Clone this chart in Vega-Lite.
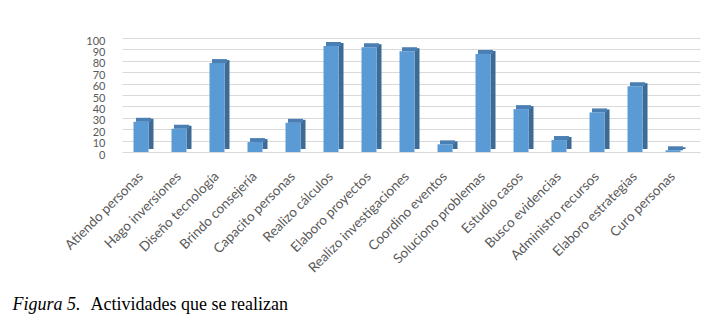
{
  "$schema": "https://vega.github.io/schema/vega-lite/v6.json",
  "width": 578,
  "height": 114,
  "autosize": "none",
  "padding": {"left": 122, "top": 38, "right": 24, "bottom": 172},
  "background": "white",
  "config": {"view": {"stroke": null}},
  "data": {
    "values": [
      {"actividad": "Atiendo personas", "valor": 26.5},
      {"actividad": "Hago inversiones", "valor": 20.4},
      {"actividad": "Diseño tecnología", "valor": 78},
      {"actividad": "Brindo consejería", "valor": 8.7},
      {"actividad": "Capacito personas", "valor": 25.6},
      {"actividad": "Realizo cálculos", "valor": 93},
      {"actividad": "Elaboro proyectos", "valor": 91.9},
      {"actividad": "Realizo investigaciones", "valor": 88.4},
      {"actividad": "Coordino eventos", "valor": 6.7},
      {"actividad": "Soluciono problemas", "valor": 86},
      {"actividad": "Estudio casos", "valor": 37.6},
      {"actividad": "Busco evidencias", "valor": 10.5},
      {"actividad": "Administro recursos", "valor": 34.7},
      {"actividad": "Elaboro estrategias", "valor": 57.7},
      {"actividad": "Curo personas", "valor": 1.5}
    ]
  },
  "encoding": {
    "x": {
      "field": "actividad",
      "type": "nominal",
      "sort": null,
      "scale": {"paddingInner": 0, "paddingOuter": 0.105, "align": 0},
      "axis": {
        "title": "Figura 5.",
        "titleFont": "Liberation Serif",
        "titleFontSize": 18,
        "titleFontStyle": "italic",
        "titleFontWeight": "normal",
        "titleColor": "#000000",
        "titleAngle": 0,
        "titleAlign": "left",
        "titleBaseline": "alphabetic",
        "titleX": -110,
        "titleY": 157,
        "labelAngle": -45,
        "labelAlign": "right",
        "labelBaseline": "middle",
        "labelFont": "Lato",
        "labelFontSize": 13.5,
        "labelColor": "#595959",
        "labelPadding": 22,
        "labelOffset": 0,
        "labelOverlap": false,
        "ticks": false,
        "domain": false,
        "grid": false
      }
    },
    "y": {
      "field": "valor",
      "type": "quantitative",
      "scale": {"domain": [0, 100], "nice": false},
      "axis": {
        "values": [0, 10, 20, 30, 40, 50, 60, 70, 80, 90, 100],
        "tickCount": 11,
        "labelOverlap": false,
        "title": "Actividades que se realizan",
        "titleFont": "Liberation Serif",
        "titleFontSize": 18,
        "titleFontWeight": "normal",
        "titleColor": "#000000",
        "titleAngle": 0,
        "titleAlign": "left",
        "titleBaseline": "alphabetic",
        "titleX": -32,
        "titleY": 271,
        "labelFont": "Lato",
        "labelFontSize": 11,
        "labelColor": "#595959",
        "labelPadding": 17,
        "labelOffset": 3,
        "ticks": false,
        "domain": false,
        "grid": true,
        "gridColor": "#D9D9D9",
        "gridWidth": 1
      }
    }
  },
  "layer": [
    {
      "mark": {"type": "bar", "width": 5, "xOffset": 10, "yOffset": -3, "color": "#3D6B96"}
    },
    {
      "mark": {"type": "bar", "width": 15, "color": "#5B9BD5"}
    },
    {
      "mark": {"type": "bar", "width": 15, "xOffset": 2.5, "yOffset": -4, "color": "#4A7FB3"},
      "encoding": {"y2": {"field": "valor"}}
    }
  ]
}
